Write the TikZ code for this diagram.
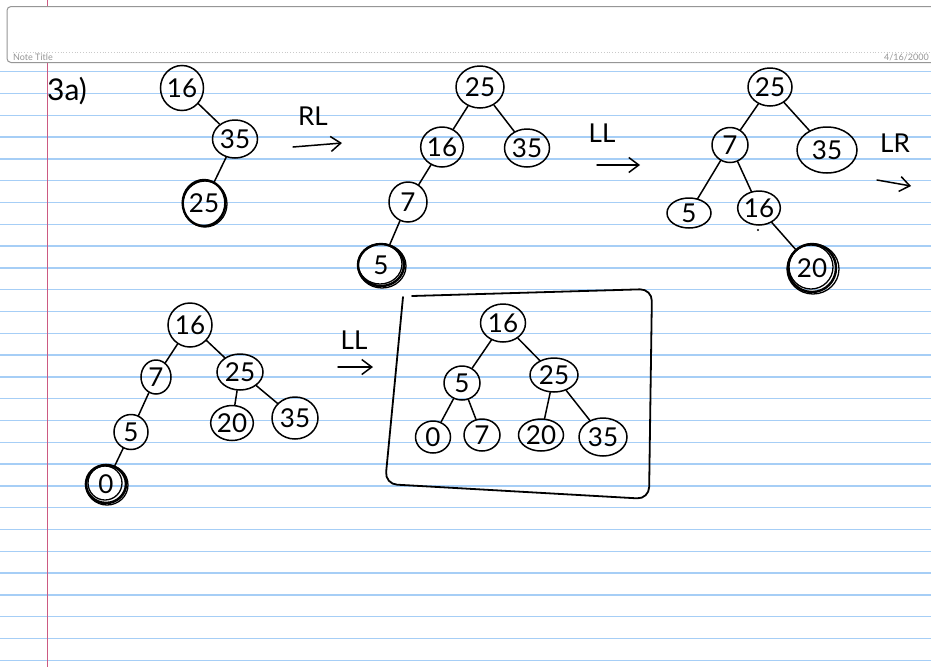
\documentclass[tikz,border=0pt]{standalone}
\usepackage{fontspec}
\setmainfont{Lato}
\usetikzlibrary{shapes.geometric,arrows.meta}
\definecolor{rulec}{RGB}{166,206,246}
\definecolor{margc}{RGB}{204,90,130}
\definecolor{hdrc}{RGB}{150,150,150}
\begin{document}
\begin{tikzpicture}[x=1pt,y=-1pt,
  nd/.style={ellipse,draw,line width=1.5pt,inner sep=0pt,font=\fontsize{26}{26}\selectfont},
  edge/.style={line width=1.5pt,line cap=round},
  ring/.style={line width=1.3pt},
  arr/.style={line width=1.5pt,line cap=round,-{Straight Barb[length=10pt,width=15pt]}},
  lab/.style={inner sep=0pt,font=\fontsize{26}{26}\selectfont},
  hdrtext/.style={inner sep=0pt,font=\fontsize{9}{9}\selectfont,text=hdrc}]
\fill[white] (0,0) rectangle (931,667);
\useasboundingbox (0,0) rectangle (931,667);
% ruled paper
\foreach \k in {0,...,27}{
  \pgfmathsetmacro{\yy}{71.7+21.8*\k}
  \draw[rulec,line width=1.4pt] (0,\yy) -- (931,\yy);
}
\draw[margc,line width=1.2pt] (47.5,0) -- (47.5,667);
% header
\draw[hdrc,fill=white,line width=1pt,rounded corners=4pt] (7,6.5) rectangle (945,62.5);
\draw[hdrc!50,dotted,line width=0.8pt] (13,52) -- (929,52);
\node[hdrtext,anchor=base west] (nt) at (13,60.5) {Note Title};
\node[hdrtext,anchor=base east] (dt) at (929,60.5) {4/16/2000};
% label
\node[lab,font=\fontsize{30}{30}\selectfont] (l3a) at (67,91) {3a)};
% tree 1
\node[nd,minimum width=43pt,minimum height=45pt] (a16) at (182,88) {16};
\node[nd,minimum width=45pt,minimum height=38pt] (a35) at (235,139) {35};
\node[nd,line width=2.4pt,minimum width=40pt,minimum height=46pt] (a25) at (204,203) {25};
\draw[ring] (205,204) ellipse [x radius=22pt,y radius=23pt];
\draw[edge] (a16) -- (a35);
\draw[edge] (a35) -- (a25);
\node[lab] (rl) at (313,116) {RL};
\coordinate (rla) at (293,147);
\coordinate (rlb) at (342,143);
\draw[arr] (rla) -- (rlb);
% tree 2
\node[nd,minimum width=48pt,minimum height=42pt] (b25) at (480,87) {25};
\node[nd,minimum width=40pt,minimum height=40pt] (b16) at (442,147) {16};
\node[nd,minimum width=45pt,minimum height=38pt] (b35) at (527,148) {35};
\node[nd,minimum width=38pt,minimum height=40pt] (b7) at (408,202) {7};
\node[nd,line width=2.4pt,minimum width=46pt,minimum height=42pt] (b5) at (381,265) {5};
\draw[ring] (382,266) ellipse [x radius=24pt,y radius=22pt];
\draw[ring] (380,264) ellipse [x radius=22pt,y radius=20pt];
\draw[edge] (b25) -- (b16);
\draw[edge] (b25) -- (b35);
\draw[edge] (b16) -- (b7);
\draw[edge] (b7) -- (b5);
\node[lab] (ll1) at (602,133) {LL};
\coordinate (lla) at (597,165);
\coordinate (llb) at (640,165);
\draw[arr] (lla) -- (llb);
% tree 3
\node[nd,minimum width=44pt,minimum height=38pt] (c25) at (770,87) {25};
\node[nd,minimum width=36pt,minimum height=35pt] (c7) at (730,145) {7};
\node[nd,minimum width=60pt,minimum height=46pt] (c35) at (827,150) {35};
\node[nd,minimum width=44pt,minimum height=30pt] (c5) at (689,213) {5};
\node[nd,minimum width=42pt,minimum height=34pt] (c16) at (759,208) {16};
\node[nd,line width=2.4pt,minimum width=48pt,minimum height=48pt] (c20) at (812,268) {20};
\draw[ring] (813,269) ellipse [x radius=26pt,y radius=25pt];
\draw[ring] (811,267) ellipse [x radius=22pt,y radius=22pt];
\draw[edge] (c25) -- (c7);
\draw[edge] (c25) -- (c35);
\draw[edge] (c7) -- (c5);
\draw[edge] (c7) -- (c16);
\draw[edge] (c16) -- (c20);
\fill (758,230) circle [radius=1.2pt];
\node[lab] (lr) at (895,143) {LR};
\coordinate (lra) at (877,180);
\coordinate (lrb) at (911,186);
\draw[arr] (lra) -- (lrb);
% tree 4
\node[nd,minimum width=44pt,minimum height=44pt] (d16) at (190,325) {16};
\node[nd,minimum width=30pt,minimum height=34pt] (d7) at (156,377) {7};
\node[nd,minimum width=46pt,minimum height=36pt] (d25) at (240,372) {25};
\node[nd,minimum width=34pt,minimum height=35pt] (d5) at (131,432) {5};
\node[nd,minimum width=40pt,minimum height=35pt] (d20) at (232,423) {20};
\node[nd,minimum width=46pt,minimum height=42pt] (d35) at (295,418) {35};
\node[nd,line width=2.6pt,minimum width=40pt,minimum height=38pt] (d0) at (106,484) {0};
\draw[ring] (107,485) ellipse [x radius=21pt,y radius=20pt];
\draw[ring] (105,483) ellipse [x radius=17pt,y radius=17pt];
\draw[edge] (d16) -- (d7);
\draw[edge] (d16) -- (d25);
\draw[edge] (d7) -- (d5);
\draw[edge] (d25) -- (d20);
\draw[edge] (d25) -- (d35);
\draw[edge] (d5) -- (d0);
\node[lab] (ll2) at (354,340) {LL};
\coordinate (llc) at (338,367);
\coordinate (lld) at (373,367);
\draw[arr] (llc) -- (lld);
% tree 5 (boxed)
\draw[line width=1.8pt,line cap=round,rounded corners=12pt] (412,296) -- (652,289) -- (649,499) -- (385,484) -- (403,297);
\node[nd,minimum width=45pt,minimum height=38pt] (e16) at (503,323) {16};
\node[nd,minimum width=36pt,minimum height=34pt] (e5) at (462,383) {5};
\node[nd,minimum width=48pt,minimum height=34pt] (e25) at (554,375) {25};
\node[nd,minimum width=35pt,minimum height=32pt] (e0) at (433,437) {0};
\node[nd,minimum width=36pt,minimum height=32pt] (e7) at (482,435) {7};
\node[nd,minimum width=45pt,minimum height=32pt] (e20) at (541,435) {20};
\node[nd,minimum width=48pt,minimum height=38pt] (e35) at (603,437) {35};
\draw[edge] (e16) -- (e5);
\draw[edge] (e16) -- (e25);
\draw[edge] (e5) -- (e0);
\draw[edge] (e5) -- (e7);
\draw[edge] (e25) -- (e20);
\draw[edge] (e25) -- (e35);
\end{tikzpicture}
\end{document}
